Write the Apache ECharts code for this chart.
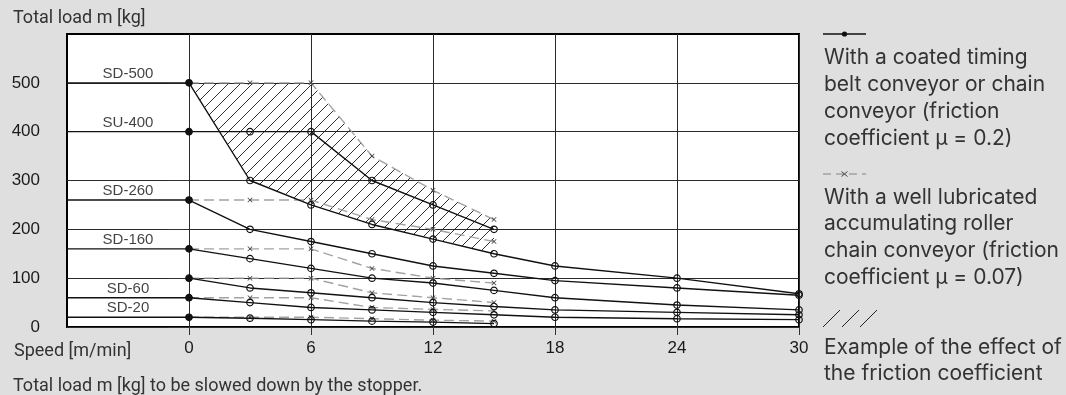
<!DOCTYPE html>
<html>
<head>
<meta charset="utf-8">
<script src="https://cdn.jsdelivr.net/npm/echarts@6/dist/echarts.min.js"></script>
<style>
  html, body { margin: 0; padding: 0; background: #dfdfdf; }
  #chart { width: 1066px; height: 395px; }
</style>
</head>
<body>
<div id="chart"></div>
<script>
// Speeds [m/min] at which the loads were measured
const speeds = [0, 3, 6, 9, 12, 15, 18, 24, 30];
const speedsLubricated = [0, 3, 6, 9, 12, 15];

// Coated timing belt / chain conveyor (friction coefficient 0.2), total load [kg]
const sd500Coated = [500, 300, 250, 210, 180, 150, 125, 100, 68];
const su400Coated = [400, 400, 400, 300, 250, 200];
const sd260Coated = [260, 200, 175, 150, 125, 110, 95, 80, 65];
const sd160Coated = [160, 140, 120, 100, 90, 75, 60, 45, 35];
const sd100Coated = [100, 80, 70, 60, 50, 42, 35, 30, 25];
const sd60Coated  = [60, 50, 40, 35, 30, 25, 20, 17, 15];
const sd20Coated  = [20, 18, 15, 12, 10, 7];

// Well lubricated accumulating roller chain conveyor (friction coefficient 0.07)
const sd500Lubricated = [500, 500, 500, 350, 280, 220];
const sd260Lubricated = [260, 260, 260, 220, 200, 175];
const sd160Lubricated = [160, 160, 160, 120, 100, 90];
const sd100Lubricated = [100, 100, 100, 70, 60, 50];
const sd60Lubricated  = [60, 60, 60, 40, 36, 33];
const sd20Lubricated  = [20, 20, 20, 17, 14, 12];

// Stopper names and their nominal loads
const stopperNames  = ['SD-500', 'SU-400', 'SD-260', 'SD-160', 'SD-60', 'SD-20'];
const stopperLevels = [500, 400, 260, 160, 60, 20];

// Axis ticks
const xTicks = [0, 6, 12, 18, 24, 30];
const yTicks = [0, 100, 200, 300, 400, 500];

const X_MIN = -6, X_MAX = 30, X_STEP = 6;
const Y_MIN = 0, Y_MAX = 600, Y_STEP = 100;

const TICK_FONT = '"Liberation Sans", Arial, sans-serif';
const TEXT_FONT = 'Roboto, sans-serif';
const LEGEND_FONT = 'Inter, Roboto, sans-serif';
const INK = '#111';
const GREY_LINE = '#a3a3a3';

const coatedSets = [sd500Coated, su400Coated, sd260Coated, sd160Coated, sd100Coated, sd60Coated, sd20Coated];
const lubricatedSets = [sd500Lubricated, sd260Lubricated, sd160Lubricated, sd100Lubricated, sd60Lubricated, sd20Lubricated];

// small "x" used as the marker of the lubricated curves
const CROSS = 'path://M0,1L1,0L5,4L9,0L10,1L6,5L10,9L9,10L5,6L1,10L0,9L4,5Z';

// diagonal hatching tile
function hatchCanvas() {
  const s = 12;
  const c = document.createElement('canvas');
  c.width = s; c.height = s;
  const g = c.getContext('2d');
  g.strokeStyle = '#1a1a1a';
  g.lineWidth = 0.9;
  g.beginPath();
  g.moveTo(0, s); g.lineTo(s, 0);
  g.moveTo(-1, 1); g.lineTo(1, -1);
  g.moveTo(s - 1, s + 1); g.lineTo(s + 1, s - 1);
  g.stroke();
  return c;
}
const HATCH = hatchCanvas();

const series = [];

// band between the two SD-500 curves: effect of the friction coefficient
series.push({
  type: 'custom',
  silent: true,
  clip: false,
  z: 1,
  data: [[0, 0]],
  renderItem: function (params, api) {
    const pts = [];
    for (let i = 0; i < sd500Lubricated.length; i++) {
      pts.push(api.coord([speedsLubricated[i], sd500Lubricated[i]]));
    }
    for (let i = sd500Lubricated.length - 1; i >= 0; i--) {
      pts.push(api.coord([speeds[i], sd500Coated[i]]));
    }
    return {
      type: 'polygon',
      shape: { points: pts },
      style: { fill: { image: HATCH, repeat: 'repeat' }, stroke: null }
    };
  }
});

// short reference lines to the left of v = 0 for each stopper
stopperLevels.forEach(function (v) {
  series.push({
    type: 'line',
    silent: true,
    z: 2,
    symbol: 'none',
    lineStyle: { color: INK, width: 1.4 },
    data: [[X_MIN, v], [0, v]]
  });
});

// stopper names
series.push({
  type: 'scatter',
  silent: true,
  z: 6,
  symbolSize: 1,
  itemStyle: { color: 'transparent' },
  label: {
    show: true,
    position: 'inside',
    offset: [0, -9],
    fontFamily: TICK_FONT,
    fontSize: 15,
    color: INK,
    formatter: function (p) { return stopperNames[p.dataIndex]; }
  },
  data: stopperLevels.map(function (v) { return [X_MIN / 2, v]; })
});

// lubricated conveyor curves (dashed, grey)
lubricatedSets.forEach(function (vals) {
  series.push({
    type: 'line',
    silent: true,
    z: 3,
    symbol: CROSS,
    symbolSize: 5,
    itemStyle: { color: '#333' },
    lineStyle: { color: GREY_LINE, width: 1.4, type: [10, 5] },
    data: vals.map(function (v, i) { return [speedsLubricated[i], v]; })
  });
});

// coated conveyor curves (solid, black)
coatedSets.forEach(function (vals) {
  series.push({
    type: 'line',
    silent: true,
    z: 4,
    symbol: 'circle',
    symbolSize: 6.5,
    itemStyle: { color: 'transparent', borderColor: INK, borderWidth: 1.2 },
    lineStyle: { color: INK, width: 1.4 },
    data: vals.map(function (v, i) {
      if (i === 0) return { value: [speeds[i], v], itemStyle: { color: INK } };
      return [speeds[i], v];
    })
  });
});

const chart = echarts.init(document.getElementById('chart'), null, { renderer: 'canvas' });

function seg(x1, y1, x2, y2, stroke, w, dash) {
  const st = { stroke: stroke, lineWidth: w };
  if (dash) st.lineDash = dash;
  return { type: 'line', silent: true, shape: { x1: x1, y1: y1, x2: x2, y2: y2 }, style: st };
}

function txt(x, y, text, size, lh, family) {
  return {
    type: 'text', x: x, y: y, silent: true,
    style: { text: text, fontFamily: family || TEXT_FONT, fontSize: size, lineHeight: lh || size * 1.2, fill: '#333', verticalAlign: 'top', align: 'left' }
  };
}

chart.setOption({
  animation: false,
  backgroundColor: '#dfdfdf',
  grid: {
    left: 67, right: 267, top: 34, bottom: 68,
    show: true,
    backgroundColor: '#ffffff',
    borderColor: '#000',
    borderWidth: 2,
    containLabel: false,
    outerBoundsMode: 'none'
  },
  xAxis: {
    type: 'value',
    min: X_MIN, max: X_MAX, interval: X_STEP,
    axisLine: { show: false },
    axisTick: { show: true, length: 8, lineStyle: { color: '#333', width: 1 }, customValues: xTicks },
    axisLabel: { show: true, customValues: xTicks, margin: 13, fontFamily: TICK_FONT, fontSize: 17, color: '#1a1a1a' },
    splitLine: { show: true, lineStyle: { color: '#2a2a2a', width: 1 } }
  },
  yAxis: {
    type: 'value',
    min: Y_MIN, max: Y_MAX, interval: Y_STEP,
    axisLine: { show: false },
    axisTick: { show: true, length: 22, lineStyle: { color: '#333', width: 1 }, customValues: yTicks },
    axisLabel: { show: true, customValues: yTicks, margin: 27, fontFamily: TICK_FONT, fontSize: 17, color: '#1a1a1a' },
    splitLine: { show: true, lineStyle: { color: '#2a2a2a', width: 1 } }
  },
  series: series,
  graphic: [
    txt(13, 8, 'Total load m [kg]', 18),
    txt(14, 341, 'Speed [m/min]', 18),
    txt(13, 376, 'Total load m [kg] to be slowed down by the stopper.', 18),

    // legend: coated conveyor
    seg(823, 34, 866, 34, INK, 1.3),
    { type: 'circle', silent: true, shape: { cx: 844.5, cy: 34, r: 2.6 }, style: { fill: INK } },
    txt(824, 44, 'With a coated timing\nbelt conveyor or chain\nconveyor (friction\ncoefficient μ = 0.2)', 21, 27, LEGEND_FONT),

    // legend: lubricated conveyor
    seg(823, 174, 866, 174, GREY_LINE, 1.3, [8, 5]),
    seg(841.5, 171.5, 847.5, 176.5, '#444', 1),
    seg(847.5, 171.5, 841.5, 176.5, '#444', 1),
    txt(824, 184, 'With a well lubricated\naccumulating roller\nchain conveyor (friction\ncoefficient μ = 0.07)', 21, 26.7, LEGEND_FONT),

    // legend: hatch
    seg(823, 327, 840, 310, '#222', 1),
    seg(842, 327, 859, 310, '#222', 1),
    seg(860, 327, 877, 310, '#222', 1),
    txt(824, 334, 'Example of the effect of\nthe friction coefficient', 21, 26.5, LEGEND_FONT)
  ]
});
</script>
</body>
</html>
